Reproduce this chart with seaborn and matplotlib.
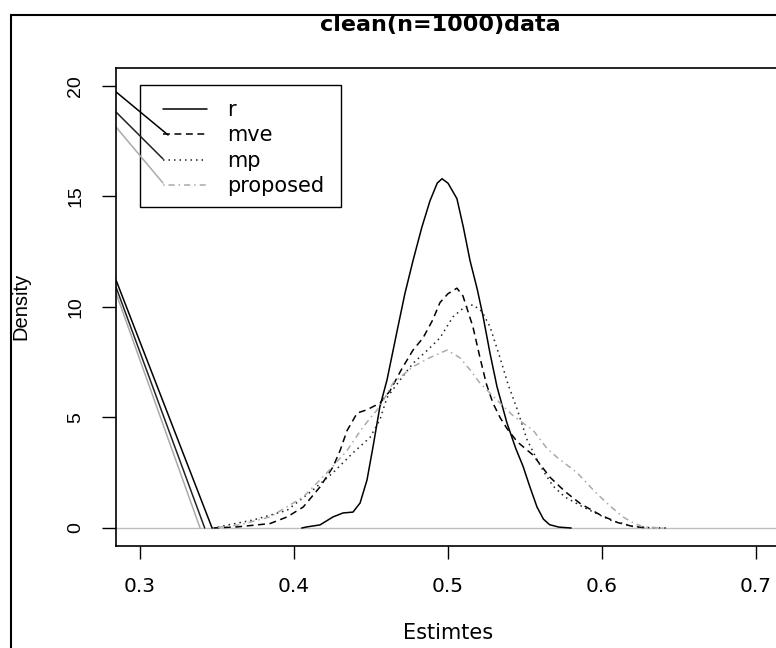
import numpy as np
import pandas as pd
import matplotlib
matplotlib.use("Agg")
import matplotlib.pyplot as plt
from matplotlib.lines import Line2D
from matplotlib.patches import Rectangle
import seaborn as sns

# ------------------------------------------------------------------
# values (density estimates of each estimator)
# ------------------------------------------------------------------
methods = ["r", "mve", "mp", "proposed"]

r_x = [0.405, 0.4084, 0.4169, 0.4253, 0.4318, 0.4383, 0.4429, 0.4474, 0.4513,
       0.4558, 0.4604, 0.4669, 0.4720, 0.4773, 0.4830, 0.4883, 0.4930, 0.4961,
       0.5000, 0.5058, 0.5100, 0.5143, 0.5190, 0.5227, 0.5273, 0.5318, 0.5383,
       0.5440, 0.5487, 0.5530, 0.5578, 0.5620, 0.5660, 0.5720, 0.5800]
r_y = [0.0, 0.05, 0.14, 0.5, 0.68, 0.72, 1.13, 2.17, 3.67,
       5.5, 6.7, 8.9, 10.6, 12.1, 13.6, 14.8, 15.6, 15.8,
       15.6, 14.9, 13.6, 12.1, 10.8, 9.6, 7.9, 6.4, 4.75,
       3.6, 2.8, 1.9, 0.95, 0.4, 0.15, 0.04, 0.0]

mve_x = [0.347, 0.363, 0.3844, 0.3955, 0.406, 0.4169, 0.4253, 0.4299, 0.4344,
         0.441, 0.4474, 0.4558, 0.4623, 0.4700, 0.4773, 0.4838, 0.4900, 0.4948,
         0.5000, 0.5058, 0.5097, 0.5162, 0.5208, 0.5250, 0.5292, 0.5338, 0.5383,
         0.5450, 0.5552, 0.5662, 0.5760, 0.5860, 0.5987, 0.6100, 0.6200, 0.6300]
mve_y = [0.0, 0.05, 0.2, 0.5, 0.95, 1.86, 2.76, 3.5, 4.4,
         5.2, 5.35, 5.65, 6.2, 7.2, 8.05, 8.6, 9.4, 10.2,
         10.6, 10.85, 10.5, 9.1, 7.7, 6.5, 5.65, 5.0, 4.5,
         3.9, 3.3, 2.3, 1.65, 1.1, 0.6, 0.25, 0.07, 0.0]

mp_x = [0.347, 0.3734, 0.3955, 0.4123, 0.4253, 0.4383, 0.4494, 0.4558, 0.4604,
        0.4700, 0.4773, 0.4860, 0.4948, 0.5032, 0.5100, 0.5162, 0.5220, 0.5273,
        0.5338, 0.5390, 0.5448, 0.5513, 0.5578, 0.5617, 0.5682, 0.5760, 0.5877,
        0.6052, 0.6200, 0.6300, 0.6420]
mp_y = [0.0, 0.36, 0.8, 1.72, 2.5, 3.4, 4.1, 4.9, 5.9,
        6.8, 7.45, 8.0, 8.6, 9.55, 9.95, 10.1, 9.8, 9.1,
        7.7, 6.5, 5.4, 4.0, 3.1, 2.6, 1.9, 1.4, 0.95,
        0.36, 0.08, 0.02, 0.0]

prop_x = [0.347, 0.3650, 0.3844, 0.406, 0.4214, 0.4344, 0.4448, 0.4558, 0.4643,
          0.4773, 0.4880, 0.4994, 0.5078, 0.5150, 0.5208, 0.5338, 0.5420, 0.5487,
          0.5552, 0.5643, 0.5708, 0.5838, 0.5967, 0.6060, 0.6136, 0.6200, 0.6266,
          0.6400]
prop_y = [0.0, 0.15, 0.5, 1.4, 2.5, 3.5, 4.57, 5.5, 6.56,
          7.3, 7.7, 8.05, 7.7, 7.1, 6.55, 5.65, 5.1, 4.75,
          4.43, 3.6, 3.2, 2.5, 1.55, 0.95, 0.5, 0.25, 0.05,
          0.0]

# stray straight segments entering from the left edge (start x, start y, end x, end y)
lead_x0 = [0.2844, 0.2844, 0.2844, 0.2844, 0.2844, 0.2844]
lead_y0 = [19.73, 18.82, 18.14, 11.22, 10.90, 10.63]
lead_x1 = [0.3182, 0.3149, 0.3149, 0.3468, 0.3420, 0.3390]
lead_y1 = [17.78, 16.70, 15.61, 0.0, 0.0, 0.0]
lead_col = ["black", "#222222", "#AAAAAA", "black", "#222222", "#AAAAAA"]

x_ticks = [0.3, 0.4, 0.5, 0.6, 0.7]
y_ticks = [0, 5, 10, 15, 20]

# ------------------------------------------------------------------
# styling
# ------------------------------------------------------------------
colors = {"r": "black", "mve": "black", "mp": "#222222", "proposed": "#AAAAAA"}
dashes = {"r": "", "mve": (4.5, 3), "mp": (1, 2.6), "proposed": (1, 2.6, 4, 2.6)}

sns.set_theme(style="white", rc={
    "axes.edgecolor": "black", "text.color": "black", "axes.labelcolor": "black",
    "xtick.color": "black", "ytick.color": "black",
    "xtick.bottom": True, "ytick.left": True,
})
plt.rcParams["font.family"] = ["DejaVu Sans"]

df = pd.concat([
    pd.DataFrame({"Estimate": r_x, "Density": r_y, "Method": "r"}),
    pd.DataFrame({"Estimate": mve_x, "Density": mve_y, "Method": "mve"}),
    pd.DataFrame({"Estimate": mp_x, "Density": mp_y, "Method": "mp"}),
    pd.DataFrame({"Estimate": prop_x, "Density": prop_y, "Method": "proposed"}),
], ignore_index=True)

W, H = 776, 648
fig = plt.figure(figsize=(W / 100, H / 100), dpi=100)
ax = fig.add_axes([116 / W, 102 / H, 684 / W, 478 / H])

ax.axhline(0, color="#BEBEBE", lw=1.0, zorder=1)

sns.lineplot(data=df, x="Estimate", y="Density", hue="Method", style="Method",
             hue_order=methods, style_order=methods, palette=colors, dashes=dashes,
             sort=False, estimator=None, legend=False, lw=1.1, ax=ax)

for i in range(len(lead_x0)):
    ax.plot([lead_x0[i], lead_x1[i]], [lead_y0[i], lead_y1[i]],
            color=lead_col[i], lw=1.1)

ax.set_xlim(0.2844, 0.7286)
ax.set_ylim(-0.814, 20.81)
ax.set_xticks(x_ticks)
ax.set_xticklabels([f"{v:.1f}" for v in x_ticks], fontsize=14.5)
ax.set_yticks(y_ticks)
ax.set_yticklabels([str(v) for v in y_ticks], fontsize=14, family="Liberation Sans")
ax.tick_params(axis="x", direction="out", length=9, width=1.0, pad=13)
ax.tick_params(axis="y", direction="out", length=10, width=1.0, pad=13, labelrotation=90)
for lbl in ax.get_yticklabels():
    lbl.set_va("center")

for sp in ax.spines.values():
    sp.set_linewidth(1.2)
    sp.set_color("black")

ax.set_xlabel("Estimtes", fontsize=15)
ax.xaxis.label.set_va("center")
ax.xaxis.set_label_coords((448 - 116) / 684, (546 - 633) / 478)
ax.set_ylabel("Density", fontsize=14.5, family="Liberation Sans")
ax.yaxis.label.set_va("center")
ax.yaxis.set_label_coords((21 - 116) / 684, (546 - 306) / 478)

fig.text(440 / W, 1 - 25 / H, "clean(n=1000)data", fontsize=16, fontweight="bold",
         ha="center", va="center")

# legend
handles = [Line2D([], [], color=colors[m], lw=1.1,
                  dashes=dashes[m] if dashes[m] else (None, None)) for m in methods]
leg = ax.legend(handles, methods, loc="upper left", frameon=False, fontsize=15,
                bbox_to_anchor=((163 - 116) / 684, (546 - 100) / 478), borderaxespad=0,
                borderpad=0, handlelength=2.1, handletextpad=1.0, labelspacing=0.26)
ax.add_patch(Rectangle(((140 - 116) / 684, (546 - 207) / 478), 201 / 684, 122 / 478,
                       transform=ax.transAxes, fill=False, ec="black", lw=1.0))

# outer frame around the whole device region
fig.add_artist(Rectangle((11 / W, -0.1), 1.2, (H - 15) / H + 0.1,
                         transform=fig.transFigure, fill=False, ec="black", lw=1.5))

fig.savefig("out.png", dpi=100)
